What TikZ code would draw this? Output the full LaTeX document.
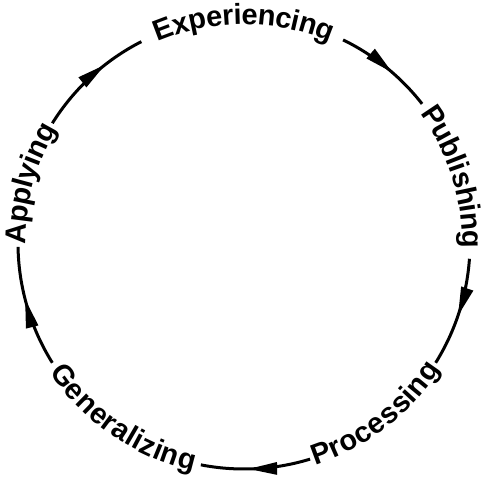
\documentclass[tikz,border=0pt]{standalone}
\usepackage{fontspec}
\setmainfont{Liberation Sans}
\usetikzlibrary{decorations.text,decorations.markings,arrows.meta}
\newcommand\cyclefont{\fontsize{29}{30}\selectfont\bfseries}
\begin{document}
\begin{tikzpicture}[
  seg/.style={line width=3pt,
    decoration={markings, mark=at position #1 with {\arrow{Triangle[length=29pt,width=12pt]}}},
    postaction={decorate}},
  lbl/.style={decorate, decoration={text along path, text align=center, raise=-7.5pt, text={|\cyclefont|#1}}}
]
\def\R{226pt}
\useasboundingbox (-244pt,-239pt) rectangle (238pt,243pt);
\coordinate (ctr) at (0,0);
% arc end points
\coordinate (a1) at (64:\R);  \coordinate (b1) at (38:\R);
\coordinate (a2) at (-4:\R);  \coordinate (b2) at (-32:\R);
\coordinate (a3) at (-73:\R); \coordinate (b3) at (-101:\R);
\coordinate (a4) at (212:\R); \coordinate (b4) at (181:\R);
\coordinate (a5) at (148:\R); \coordinate (b5) at (117:\R);
% connectors (clockwise)
\draw[seg=0.58] (a1) arc[start angle=64, end angle=38, radius=\R];
\draw[seg=0.53] (a2) arc[start angle=-4, end angle=-32, radius=\R];
\draw[seg=0.57] (a3) arc[start angle=-73, end angle=-101, radius=\R];
\draw[seg=0.57] (a4) arc[start angle=212, end angle=181, radius=\R];
\draw[seg=0.65] (a5) arc[start angle=148, end angle=117, radius=\R];
% labels along the circle
\path[lbl=Experiencing] (125:\R) arc[start angle=125, end angle=55, radius=\R];
\path[lbl=Publishing] (50:\R) arc[start angle=50, end angle=-15, radius=\R];
\path[lbl=Processing] (-85:\R) arc[start angle=-85, end angle=-20, radius=\R];
\path[lbl=Generalizing] (200:\R) arc[start angle=200, end angle=271, radius=\R];
\path[lbl=Applying] (195:\R) arc[start angle=195, end angle=134, radius=\R];
\end{tikzpicture}
\end{document}
